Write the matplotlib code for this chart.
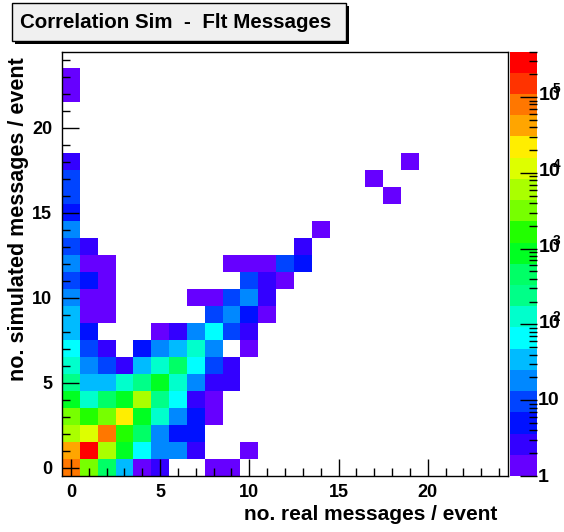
import matplotlib
matplotlib.use("Agg")
import matplotlib.pyplot as plt
import numpy as np
from matplotlib.colors import ListedColormap, BoundaryNorm
from matplotlib.patches import Rectangle
from matplotlib.ticker import MultipleLocator, LogLocator, NullFormatter
from matplotlib.transforms import blended_transform_factory, offset_copy

plt.rcParams['font.family'] = ['Liberation Sans', 'DejaVu Sans']
plt.rcParams['font.weight'] = 'bold'
plt.rcParams['mathtext.fontset'] = 'custom'
plt.rcParams['mathtext.rm'] = 'Liberation Sans:bold'
plt.rcParams['mathtext.bf'] = 'Liberation Sans:bold'

# entries per row: index = no. simulated messages, list position = no. real messages
entries = [
    [80000, 3300, 450, 35, 1, 3, 0, 0, 1, 1],
    [40000, 300000, 6000, 900, 65, 18, 18, 3, 0, 0, 1],
    [6000, 11000, 80000, 1700, 450, 18, 5, 5],
    [3300, 1700, 3300, 22000, 900, 120, 18, 5, 1],
    [900, 120, 450, 900, 6000, 250, 65, 3, 1],
    [250, 35, 35, 120, 250, 900, 120, 18, 3, 3],
    [120, 18, 10, 3, 35, 120, 450, 65, 10, 3],
    [65, 10, 3, 0, 5, 18, 35, 120, 18, 0, 1],
    [35, 5, 0, 0, 0, 1, 3, 18, 65, 10, 3],
    [35, 1, 1, 0, 0, 0, 0, 0, 10, 18, 5, 1],
    [18, 1, 1, 0, 0, 0, 0, 1, 1, 10, 18, 3],
    [10, 5, 1, 0, 0, 0, 0, 0, 0, 0, 10, 3, 1],
    [18, 1, 1, 0, 0, 0, 0, 0, 0, 1, 1, 1, 10, 5],
    [10, 3, 0, 0, 0, 0, 0, 0, 0, 0, 0, 0, 0, 3],
    [18, 0, 0, 0, 0, 0, 0, 0, 0, 0, 0, 0, 0, 0, 1],
    [5],
    [10, 0, 0, 0, 0, 0, 0, 0, 0, 0, 0, 0, 0, 0, 0, 0, 0, 0, 1],
    [10, 0, 0, 0, 0, 0, 0, 0, 0, 0, 0, 0, 0, 0, 0, 0, 0, 1],
    [3, 0, 0, 0, 0, 0, 0, 0, 0, 0, 0, 0, 0, 0, 0, 0, 0, 0, 0, 1],
    [],
    [],
    [],
    [1],
    [1],
]

# ROOT-like palette, 20 contour levels
palette = ['#6600ff', '#3300ff', '#0011ff', '#0044ff', '#0088ff', '#00bbff',
           '#00ffff', '#00ffcc', '#00ff88', '#00ff66', '#00ff22', '#22ff00',
           '#77ff00', '#aaff00', '#ddff00', '#ffee00', '#ffa500', '#ff7700',
           '#ff3300', '#ff0000']
z_min, z_max = 1, 4.0e5
z_decades = [0, 1, 2, 3, 4, 5]

nbins = 25
H = np.zeros((nbins, nbins))
for j, row in enumerate(entries):
    for i, v in enumerate(row):
        H[j, i] = v
H = np.ma.masked_where(H <= 0, H)

edges = np.arange(nbins + 1) - 0.5
levels = np.logspace(np.log10(z_min), np.log10(z_max), len(palette) + 1)
cmap = ListedColormap(palette)
norm = BoundaryNorm(levels, cmap.N)

fig = plt.figure(figsize=(5.64, 5.32), dpi=100)
W, Hp = 564, 532
ax = fig.add_axes([62 / W, 1 - 476 / Hp, 446 / W, 424.5 / Hp])
cax = fig.add_axes([510 / W, 1 - 476 / Hp, 27 / W, 424.5 / Hp])

mesh = ax.pcolormesh(edges, edges, H, cmap=cmap, norm=norm)
ax.set_xlim(-0.5, 24.5)
ax.set_ylim(-0.5, 24.5)
ax.xaxis.set_major_locator(MultipleLocator(5))
ax.yaxis.set_major_locator(MultipleLocator(5))
ax.xaxis.set_minor_locator(MultipleLocator(1))
ax.yaxis.set_minor_locator(MultipleLocator(1))
ax.tick_params(which='major', direction='in', length=12, width=1, top=False, right=False,
               labelsize=13, pad=6)
ax.tick_params(which='minor', direction='in', length=6, width=1, top=False, right=False)
ax.tick_params(axis='y', pad=7)
for s in ax.spines.values():
    s.set_linewidth(1)

fig.text(497 / W, 1 - 515 / Hp, 'no. real messages / event', ha='right', va='center',
         fontsize=15, fontweight='bold')
fig.text(19 / W, 1 - 57 / Hp, 'no. simulated messages / event', ha='center', va='top',
         rotation=90, fontsize=15.5, fontweight='bold')

cb = fig.colorbar(mesh, cax=cax)
cb.outline.set_linewidth(0)
cax.set_yscale('log')
cax.set_ylim(z_min, z_max)
cax.yaxis.set_major_locator(LogLocator(base=10))
cax.yaxis.set_minor_locator(LogLocator(base=10, subs=np.arange(2, 10)))
cax.yaxis.set_major_formatter(NullFormatter())
cax.yaxis.set_minor_formatter(NullFormatter())
cax.tick_params(which='major', direction='in', length=12, width=1)
cax.tick_params(which='minor', direction='in', length=6, width=1)

# ROOT style log labels: "1", "10", then 10 with a small exponent
trans = blended_transform_factory(cax.transAxes, cax.transData)
for n in z_decades:
    if n == 0:
        lab, dy = '1', -2
    elif n == 1:
        lab, dy = '10', 0
    else:
        lab, dy = r'$\mathregular{10}^{\!\!\!%d}$' % n, 3
    cax.text(1, 10.0 ** n, lab, transform=offset_copy(trans, fig=fig, x=1, y=dy, units='dots'),
             ha='left', va='center', fontsize=14, fontweight='bold', clip_on=False)

# title box with shadow
fig.patches.append(Rectangle((15 / W, 1 - 44 / Hp), 334 / W, 38 / Hp, transform=fig.transFigure,
                             facecolor='black', edgecolor='none', zorder=1))
fig.patches.append(Rectangle((12 / W, 1 - 41 / Hp), 334 / W, 38 / Hp, transform=fig.transFigure,
                             facecolor='#f0f0f0', edgecolor='black', linewidth=1, zorder=2))
fig.text(20 / W, 1 - 22 / Hp, 'Correlation Sim  -  Flt Messages', ha='left', va='center',
         fontsize=14.8, fontweight='bold', zorder=3)

fig.savefig('out.png', dpi=100)
